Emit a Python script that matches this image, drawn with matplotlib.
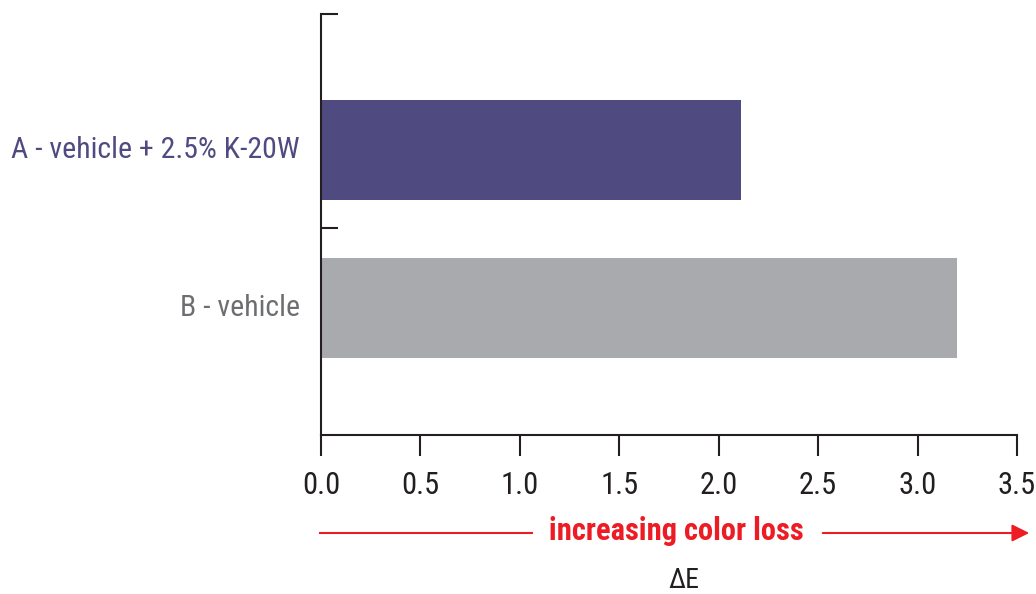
import matplotlib
matplotlib.use("Agg")
import matplotlib.pyplot as plt

categories = ["A - vehicle + 2.5% K-20W", "B - vehicle"]
values = [2.11, 3.20]
bar_colors = ["#4f4b80", "#a9aaae"]
label_colors = ["#4f4b80", "#6d6e71"]
xticks = [0.0, 0.5, 1.0, 1.5, 2.0, 2.5, 3.0, 3.5]
xticklabels = ["0.0", "0.5", "1.0", "1.5", "2.0", "2.5", "3.0", "3.5"]

fam = ['Liberation Sans Narrow', 'Roboto Condensed', 'Liberation Sans', 'DejaVu Sans']
plt.rcParams['font.family'] = fam

fig = plt.figure(figsize=(10.36, 5.94), dpi=100)
ax = fig.add_axes([321/1036, 1-435/594, (1017-321)/1036, (435-14)/594])

ypos = list(range(len(categories)))
ax.barh(ypos, values, height=0.627, color=bar_colors)
ax.set_xlim(0, 3.5)
ax.set_ylim(1.804, -0.861)

for s in ['top', 'right']:
    ax.spines[s].set_visible(False)
for s in ['left', 'bottom']:
    ax.spines[s].set_linewidth(1.5)
    ax.spines[s].set_color('#231f20')

ax.set_xticks(xticks)
ax.set_xticklabels(xticklabels, fontsize=22, color='#231f20')
ax.tick_params(axis='x', direction='out', length=15, width=1.5, color='#231f20', pad=11)

ax.set_yticks([-0.861, 0.494])
ax.set_yticklabels([])
ax.tick_params(axis='y', direction='in', length=12, width=1.5, color='#231f20')

for y, lab, c in zip(ypos, categories, label_colors):
    ax.text(-0.03, y, lab, ha='right', va='center', fontsize=21.5, color=c,
            transform=ax.get_yaxis_transform())

red = '#ed1c24'
fig.text(676/1036, 1-531/594, "increasing color loss", ha='center', va='center',
         fontsize=22, fontweight='bold', color=red)
fig.add_artist(plt.Line2D([320/1036, 532/1036], [1-533/594, 1-533/594], color=red, lw=1.5))
ax.annotate("", xy=(1032/1036, 1-533/594), xytext=(820/1036, 1-533/594),
            xycoords='figure fraction', textcoords='figure fraction',
            arrowprops=dict(arrowstyle='-|>', color=red, lw=1.5, mutation_scale=26))
fig.text(684/1036, 1-581/594, "ΔE", ha='center', va='center', fontsize=20, color='#231f20')

fig.savefig("out.png", dpi=100)
